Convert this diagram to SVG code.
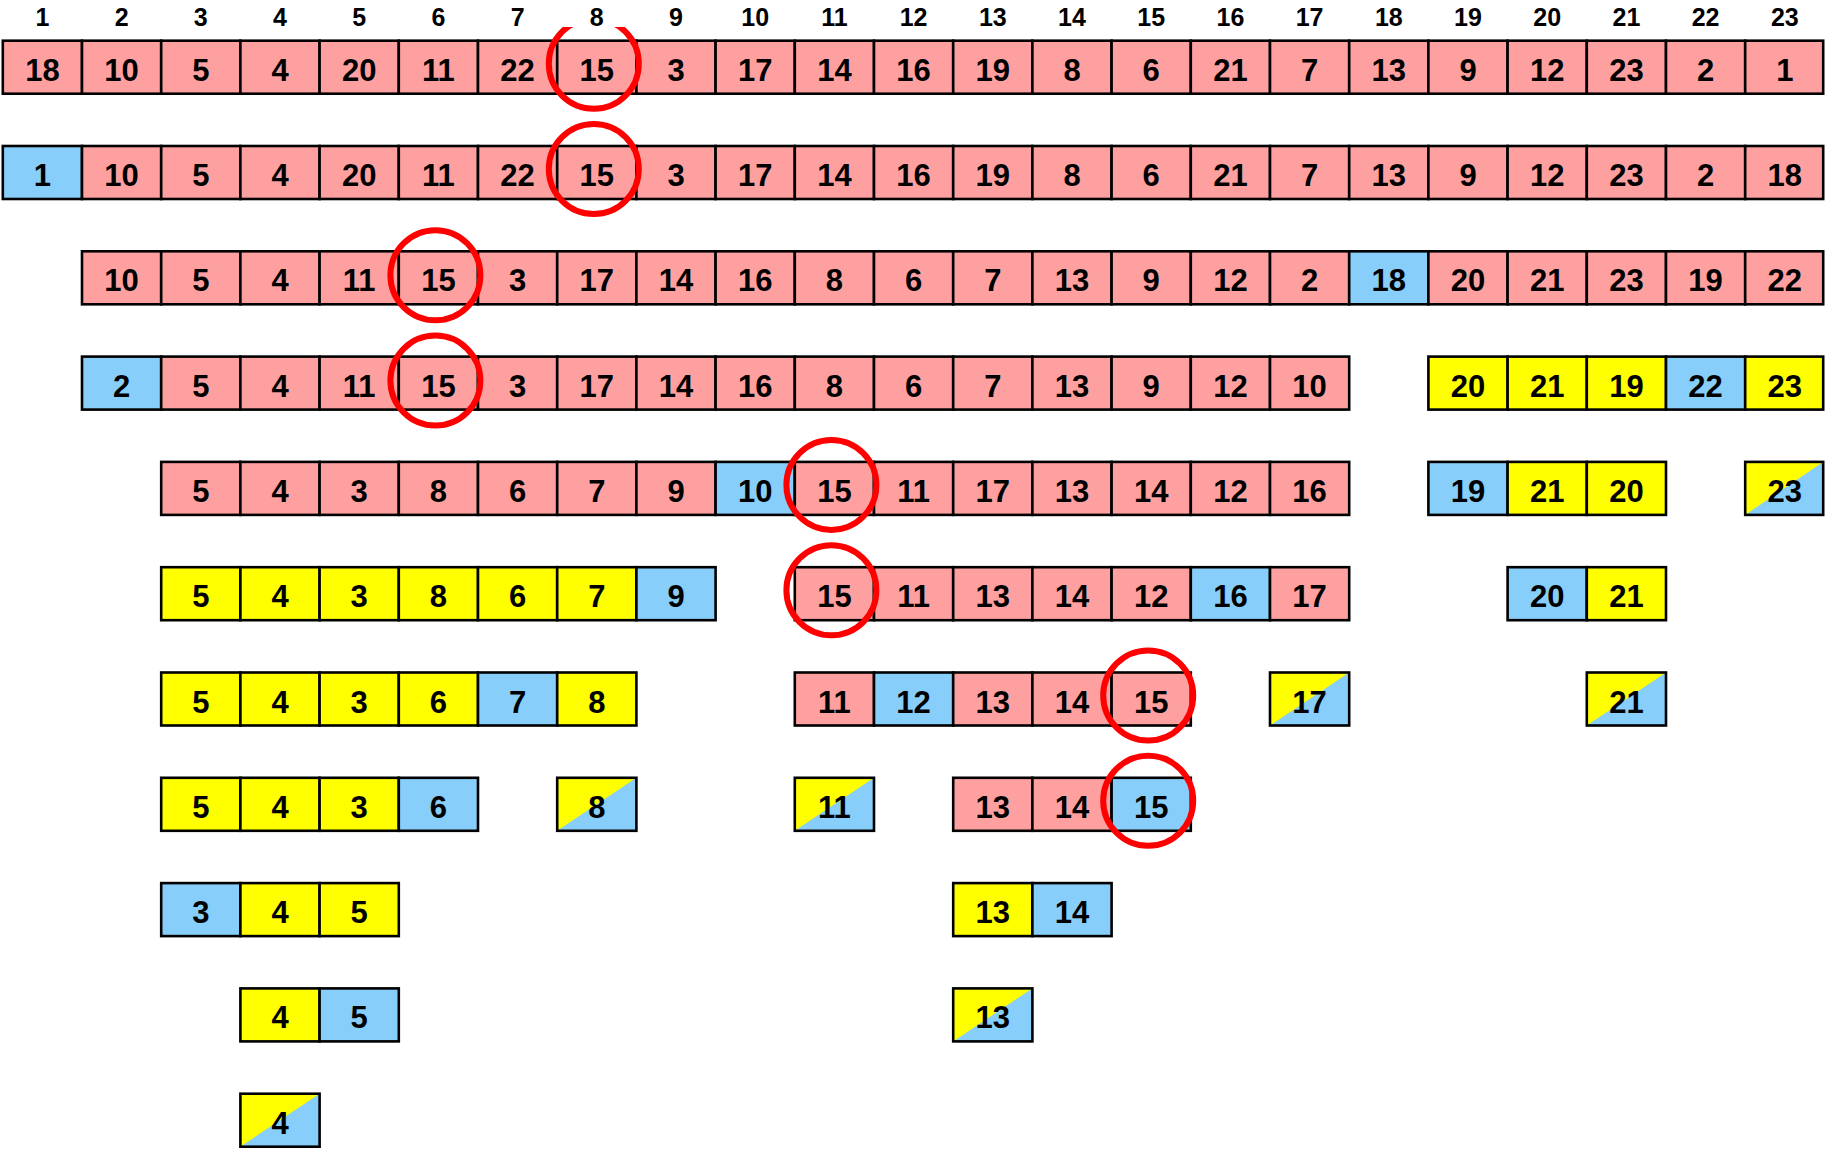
<svg xmlns="http://www.w3.org/2000/svg" width="1825" height="1149" viewBox="0 0 1825 1149">
<style>
rect{stroke:#000;stroke-width:2.6}
.p{fill:#FFA0A0}.b{fill:#87CEFA}.y{fill:#FFFF00}
.o{fill:none}
.t{fill:#FFFF00;stroke:none}
polygon{fill:#87CEFA;stroke:none}
text{font-family:"Liberation Sans",Arial,sans-serif;font-weight:bold;font-size:31px;text-anchor:middle;fill:#000}
.h{font-size:25px}
circle{fill:none;stroke:#F00;stroke-width:6}
</style>
<rect x="0" y="0" width="1825" height="1149" style="fill:#fff;stroke:none"/>
<g id="row1" transform="translate(0,40.7)">
<g id="n1-1"><rect class="p" x="2.8" y="0" width="79.2" height="53"/><text x="42.4" y="40">18</text></g>
<g id="n1-2"><rect class="p" x="82" y="0" width="79.2" height="53"/><text x="121.6" y="40">10</text></g>
<g id="n1-3"><rect class="p" x="161.2" y="0" width="79.2" height="53"/><text x="200.8" y="40">5</text></g>
<g id="n1-4"><rect class="p" x="240.4" y="0" width="79.2" height="53"/><text x="280" y="40">4</text></g>
<g id="n1-5"><rect class="p" x="319.6" y="0" width="79.2" height="53"/><text x="359.2" y="40">20</text></g>
<g id="n1-6"><rect class="p" x="398.8" y="0" width="79.2" height="53"/><text x="438.4" y="40">11</text></g>
<g id="n1-7"><rect class="p" x="478" y="0" width="79.2" height="53"/><text x="517.6" y="40">22</text></g>
<g id="n1-8"><rect class="p" x="557.2" y="0" width="79.2" height="53"/><text x="596.8" y="40">15</text></g>
<g id="n1-9"><rect class="p" x="636.4" y="0" width="79.2" height="53"/><text x="676" y="40">3</text></g>
<g id="n1-10"><rect class="p" x="715.6" y="0" width="79.2" height="53"/><text x="755.2" y="40">17</text></g>
<g id="n1-11"><rect class="p" x="794.8" y="0" width="79.2" height="53"/><text x="834.4" y="40">14</text></g>
<g id="n1-12"><rect class="p" x="874" y="0" width="79.2" height="53"/><text x="913.6" y="40">16</text></g>
<g id="n1-13"><rect class="p" x="953.2" y="0" width="79.2" height="53"/><text x="992.8" y="40">19</text></g>
<g id="n1-14"><rect class="p" x="1032.4" y="0" width="79.2" height="53"/><text x="1072" y="40">8</text></g>
<g id="n1-15"><rect class="p" x="1111.6" y="0" width="79.2" height="53"/><text x="1151.2" y="40">6</text></g>
<g id="n1-16"><rect class="p" x="1190.8" y="0" width="79.2" height="53"/><text x="1230.4" y="40">21</text></g>
<g id="n1-17"><rect class="p" x="1270" y="0" width="79.2" height="53"/><text x="1309.6" y="40">7</text></g>
<g id="n1-18"><rect class="p" x="1349.2" y="0" width="79.2" height="53"/><text x="1388.8" y="40">13</text></g>
<g id="n1-19"><rect class="p" x="1428.4" y="0" width="79.2" height="53"/><text x="1468" y="40">9</text></g>
<g id="n1-20"><rect class="p" x="1507.6" y="0" width="79.2" height="53"/><text x="1547.2" y="40">12</text></g>
<g id="n1-21"><rect class="p" x="1586.8" y="0" width="79.2" height="53"/><text x="1626.4" y="40">23</text></g>
<g id="n1-22"><rect class="p" x="1666" y="0" width="79.2" height="53"/><text x="1705.6" y="40">2</text></g>
<g id="n1-23"><rect class="p" x="1745.2" y="0" width="78" height="53"/><text x="1784.8" y="40">1</text></g>
<circle cx="593.8" cy="23" r="45"/>
</g>
<g id="row2" transform="translate(0,146)">
<g id="n2-1"><rect class="b" x="2.8" y="0" width="79.2" height="53"/><text x="42.4" y="40">1</text></g>
<g id="n2-2"><rect class="p" x="82" y="0" width="79.2" height="53"/><text x="121.6" y="40">10</text></g>
<g id="n2-3"><rect class="p" x="161.2" y="0" width="79.2" height="53"/><text x="200.8" y="40">5</text></g>
<g id="n2-4"><rect class="p" x="240.4" y="0" width="79.2" height="53"/><text x="280" y="40">4</text></g>
<g id="n2-5"><rect class="p" x="319.6" y="0" width="79.2" height="53"/><text x="359.2" y="40">20</text></g>
<g id="n2-6"><rect class="p" x="398.8" y="0" width="79.2" height="53"/><text x="438.4" y="40">11</text></g>
<g id="n2-7"><rect class="p" x="478" y="0" width="79.2" height="53"/><text x="517.6" y="40">22</text></g>
<g id="n2-8"><rect class="p" x="557.2" y="0" width="79.2" height="53"/><text x="596.8" y="40">15</text></g>
<g id="n2-9"><rect class="p" x="636.4" y="0" width="79.2" height="53"/><text x="676" y="40">3</text></g>
<g id="n2-10"><rect class="p" x="715.6" y="0" width="79.2" height="53"/><text x="755.2" y="40">17</text></g>
<g id="n2-11"><rect class="p" x="794.8" y="0" width="79.2" height="53"/><text x="834.4" y="40">14</text></g>
<g id="n2-12"><rect class="p" x="874" y="0" width="79.2" height="53"/><text x="913.6" y="40">16</text></g>
<g id="n2-13"><rect class="p" x="953.2" y="0" width="79.2" height="53"/><text x="992.8" y="40">19</text></g>
<g id="n2-14"><rect class="p" x="1032.4" y="0" width="79.2" height="53"/><text x="1072" y="40">8</text></g>
<g id="n2-15"><rect class="p" x="1111.6" y="0" width="79.2" height="53"/><text x="1151.2" y="40">6</text></g>
<g id="n2-16"><rect class="p" x="1190.8" y="0" width="79.2" height="53"/><text x="1230.4" y="40">21</text></g>
<g id="n2-17"><rect class="p" x="1270" y="0" width="79.2" height="53"/><text x="1309.6" y="40">7</text></g>
<g id="n2-18"><rect class="p" x="1349.2" y="0" width="79.2" height="53"/><text x="1388.8" y="40">13</text></g>
<g id="n2-19"><rect class="p" x="1428.4" y="0" width="79.2" height="53"/><text x="1468" y="40">9</text></g>
<g id="n2-20"><rect class="p" x="1507.6" y="0" width="79.2" height="53"/><text x="1547.2" y="40">12</text></g>
<g id="n2-21"><rect class="p" x="1586.8" y="0" width="79.2" height="53"/><text x="1626.4" y="40">23</text></g>
<g id="n2-22"><rect class="p" x="1666" y="0" width="79.2" height="53"/><text x="1705.6" y="40">2</text></g>
<g id="n2-23"><rect class="p" x="1745.2" y="0" width="78" height="53"/><text x="1784.8" y="40">18</text></g>
<circle cx="593.8" cy="23" r="45"/>
</g>
<g id="row3" transform="translate(0,251.3)">
<g id="n3-2"><rect class="p" x="82" y="0" width="79.2" height="53"/><text x="121.6" y="40">10</text></g>
<g id="n3-3"><rect class="p" x="161.2" y="0" width="79.2" height="53"/><text x="200.8" y="40">5</text></g>
<g id="n3-4"><rect class="p" x="240.4" y="0" width="79.2" height="53"/><text x="280" y="40">4</text></g>
<g id="n3-5"><rect class="p" x="319.6" y="0" width="79.2" height="53"/><text x="359.2" y="40">11</text></g>
<g id="n3-6"><rect class="p" x="398.8" y="0" width="79.2" height="53"/><text x="438.4" y="40">15</text></g>
<g id="n3-7"><rect class="p" x="478" y="0" width="79.2" height="53"/><text x="517.6" y="40">3</text></g>
<g id="n3-8"><rect class="p" x="557.2" y="0" width="79.2" height="53"/><text x="596.8" y="40">17</text></g>
<g id="n3-9"><rect class="p" x="636.4" y="0" width="79.2" height="53"/><text x="676" y="40">14</text></g>
<g id="n3-10"><rect class="p" x="715.6" y="0" width="79.2" height="53"/><text x="755.2" y="40">16</text></g>
<g id="n3-11"><rect class="p" x="794.8" y="0" width="79.2" height="53"/><text x="834.4" y="40">8</text></g>
<g id="n3-12"><rect class="p" x="874" y="0" width="79.2" height="53"/><text x="913.6" y="40">6</text></g>
<g id="n3-13"><rect class="p" x="953.2" y="0" width="79.2" height="53"/><text x="992.8" y="40">7</text></g>
<g id="n3-14"><rect class="p" x="1032.4" y="0" width="79.2" height="53"/><text x="1072" y="40">13</text></g>
<g id="n3-15"><rect class="p" x="1111.6" y="0" width="79.2" height="53"/><text x="1151.2" y="40">9</text></g>
<g id="n3-16"><rect class="p" x="1190.8" y="0" width="79.2" height="53"/><text x="1230.4" y="40">12</text></g>
<g id="n3-17"><rect class="p" x="1270" y="0" width="79.2" height="53"/><text x="1309.6" y="40">2</text></g>
<g id="n3-18"><rect class="b" x="1349.2" y="0" width="79.2" height="53"/><text x="1388.8" y="40">18</text></g>
<g id="n3-19"><rect class="p" x="1428.4" y="0" width="79.2" height="53"/><text x="1468" y="40">20</text></g>
<g id="n3-20"><rect class="p" x="1507.6" y="0" width="79.2" height="53"/><text x="1547.2" y="40">21</text></g>
<g id="n3-21"><rect class="p" x="1586.8" y="0" width="79.2" height="53"/><text x="1626.4" y="40">23</text></g>
<g id="n3-22"><rect class="p" x="1666" y="0" width="79.2" height="53"/><text x="1705.6" y="40">19</text></g>
<g id="n3-23"><rect class="p" x="1745.2" y="0" width="78" height="53"/><text x="1784.8" y="40">22</text></g>
<circle cx="435.4" cy="24" r="45"/>
</g>
<g id="row4" transform="translate(0,356.6)">
<g id="n4-2"><rect class="b" x="82" y="0" width="79.2" height="53"/><text x="121.6" y="40">2</text></g>
<g id="n4-3"><rect class="p" x="161.2" y="0" width="79.2" height="53"/><text x="200.8" y="40">5</text></g>
<g id="n4-4"><rect class="p" x="240.4" y="0" width="79.2" height="53"/><text x="280" y="40">4</text></g>
<g id="n4-5"><rect class="p" x="319.6" y="0" width="79.2" height="53"/><text x="359.2" y="40">11</text></g>
<g id="n4-6"><rect class="p" x="398.8" y="0" width="79.2" height="53"/><text x="438.4" y="40">15</text></g>
<g id="n4-7"><rect class="p" x="478" y="0" width="79.2" height="53"/><text x="517.6" y="40">3</text></g>
<g id="n4-8"><rect class="p" x="557.2" y="0" width="79.2" height="53"/><text x="596.8" y="40">17</text></g>
<g id="n4-9"><rect class="p" x="636.4" y="0" width="79.2" height="53"/><text x="676" y="40">14</text></g>
<g id="n4-10"><rect class="p" x="715.6" y="0" width="79.2" height="53"/><text x="755.2" y="40">16</text></g>
<g id="n4-11"><rect class="p" x="794.8" y="0" width="79.2" height="53"/><text x="834.4" y="40">8</text></g>
<g id="n4-12"><rect class="p" x="874" y="0" width="79.2" height="53"/><text x="913.6" y="40">6</text></g>
<g id="n4-13"><rect class="p" x="953.2" y="0" width="79.2" height="53"/><text x="992.8" y="40">7</text></g>
<g id="n4-14"><rect class="p" x="1032.4" y="0" width="79.2" height="53"/><text x="1072" y="40">13</text></g>
<g id="n4-15"><rect class="p" x="1111.6" y="0" width="79.2" height="53"/><text x="1151.2" y="40">9</text></g>
<g id="n4-16"><rect class="p" x="1190.8" y="0" width="79.2" height="53"/><text x="1230.4" y="40">12</text></g>
<g id="n4-17"><rect class="p" x="1270" y="0" width="79.2" height="53"/><text x="1309.6" y="40">10</text></g>
<g id="n4-19"><rect class="y" x="1428.4" y="0" width="79.2" height="53"/><text x="1468" y="40">20</text></g>
<g id="n4-20"><rect class="y" x="1507.6" y="0" width="79.2" height="53"/><text x="1547.2" y="40">21</text></g>
<g id="n4-21"><rect class="y" x="1586.8" y="0" width="79.2" height="53"/><text x="1626.4" y="40">19</text></g>
<g id="n4-22"><rect class="b" x="1666" y="0" width="79.2" height="53"/><text x="1705.6" y="40">22</text></g>
<g id="n4-23"><rect class="y" x="1745.2" y="0" width="78" height="53"/><text x="1784.8" y="40">23</text></g>
<circle cx="435.4" cy="24" r="45"/>
</g>
<g id="row5" transform="translate(0,461.9)">
<g id="n5-3"><rect class="p" x="161.2" y="0" width="79.2" height="53"/><text x="200.8" y="40">5</text></g>
<g id="n5-4"><rect class="p" x="240.4" y="0" width="79.2" height="53"/><text x="280" y="40">4</text></g>
<g id="n5-5"><rect class="p" x="319.6" y="0" width="79.2" height="53"/><text x="359.2" y="40">3</text></g>
<g id="n5-6"><rect class="p" x="398.8" y="0" width="79.2" height="53"/><text x="438.4" y="40">8</text></g>
<g id="n5-7"><rect class="p" x="478" y="0" width="79.2" height="53"/><text x="517.6" y="40">6</text></g>
<g id="n5-8"><rect class="p" x="557.2" y="0" width="79.2" height="53"/><text x="596.8" y="40">7</text></g>
<g id="n5-9"><rect class="p" x="636.4" y="0" width="79.2" height="53"/><text x="676" y="40">9</text></g>
<g id="n5-10"><rect class="b" x="715.6" y="0" width="79.2" height="53"/><text x="755.2" y="40">10</text></g>
<g id="n5-11"><rect class="p" x="794.8" y="0" width="79.2" height="53"/><text x="834.4" y="40">15</text></g>
<g id="n5-12"><rect class="p" x="874" y="0" width="79.2" height="53"/><text x="913.6" y="40">11</text></g>
<g id="n5-13"><rect class="p" x="953.2" y="0" width="79.2" height="53"/><text x="992.8" y="40">17</text></g>
<g id="n5-14"><rect class="p" x="1032.4" y="0" width="79.2" height="53"/><text x="1072" y="40">13</text></g>
<g id="n5-15"><rect class="p" x="1111.6" y="0" width="79.2" height="53"/><text x="1151.2" y="40">14</text></g>
<g id="n5-16"><rect class="p" x="1190.8" y="0" width="79.2" height="53"/><text x="1230.4" y="40">12</text></g>
<g id="n5-17"><rect class="p" x="1270" y="0" width="79.2" height="53"/><text x="1309.6" y="40">16</text></g>
<g id="n5-19"><rect class="b" x="1428.4" y="0" width="79.2" height="53"/><text x="1468" y="40">19</text></g>
<g id="n5-20"><rect class="y" x="1507.6" y="0" width="79.2" height="53"/><text x="1547.2" y="40">21</text></g>
<g id="n5-21"><rect class="y" x="1586.8" y="0" width="79.2" height="53"/><text x="1626.4" y="40">20</text></g>
<g id="n5-23"><rect class="t" x="1745.2" y="0" width="78" height="53"/><polygon points="1745.2,53 1823.2,0 1823.2,53"/><rect class="o" x="1745.2" y="0" width="78" height="53"/><text x="1784.8" y="40">23</text></g>
<circle cx="831.4" cy="23" r="45"/>
</g>
<g id="row6" transform="translate(0,567.2)">
<g id="n6-3"><rect class="y" x="161.2" y="0" width="79.2" height="53"/><text x="200.8" y="40">5</text></g>
<g id="n6-4"><rect class="y" x="240.4" y="0" width="79.2" height="53"/><text x="280" y="40">4</text></g>
<g id="n6-5"><rect class="y" x="319.6" y="0" width="79.2" height="53"/><text x="359.2" y="40">3</text></g>
<g id="n6-6"><rect class="y" x="398.8" y="0" width="79.2" height="53"/><text x="438.4" y="40">8</text></g>
<g id="n6-7"><rect class="y" x="478" y="0" width="79.2" height="53"/><text x="517.6" y="40">6</text></g>
<g id="n6-8"><rect class="y" x="557.2" y="0" width="79.2" height="53"/><text x="596.8" y="40">7</text></g>
<g id="n6-9"><rect class="b" x="636.4" y="0" width="79.2" height="53"/><text x="676" y="40">9</text></g>
<g id="n6-11"><rect class="p" x="794.8" y="0" width="79.2" height="53"/><text x="834.4" y="40">15</text></g>
<g id="n6-12"><rect class="p" x="874" y="0" width="79.2" height="53"/><text x="913.6" y="40">11</text></g>
<g id="n6-13"><rect class="p" x="953.2" y="0" width="79.2" height="53"/><text x="992.8" y="40">13</text></g>
<g id="n6-14"><rect class="p" x="1032.4" y="0" width="79.2" height="53"/><text x="1072" y="40">14</text></g>
<g id="n6-15"><rect class="p" x="1111.6" y="0" width="79.2" height="53"/><text x="1151.2" y="40">12</text></g>
<g id="n6-16"><rect class="b" x="1190.8" y="0" width="79.2" height="53"/><text x="1230.4" y="40">16</text></g>
<g id="n6-17"><rect class="p" x="1270" y="0" width="79.2" height="53"/><text x="1309.6" y="40">17</text></g>
<g id="n6-20"><rect class="b" x="1507.6" y="0" width="79.2" height="53"/><text x="1547.2" y="40">20</text></g>
<g id="n6-21"><rect class="y" x="1586.8" y="0" width="79.2" height="53"/><text x="1626.4" y="40">21</text></g>
<circle cx="831.4" cy="23" r="45"/>
</g>
<g id="row7" transform="translate(0,672.5)">
<g id="n7-3"><rect class="y" x="161.2" y="0" width="79.2" height="53"/><text x="200.8" y="40">5</text></g>
<g id="n7-4"><rect class="y" x="240.4" y="0" width="79.2" height="53"/><text x="280" y="40">4</text></g>
<g id="n7-5"><rect class="y" x="319.6" y="0" width="79.2" height="53"/><text x="359.2" y="40">3</text></g>
<g id="n7-6"><rect class="y" x="398.8" y="0" width="79.2" height="53"/><text x="438.4" y="40">6</text></g>
<g id="n7-7"><rect class="b" x="478" y="0" width="79.2" height="53"/><text x="517.6" y="40">7</text></g>
<g id="n7-8"><rect class="y" x="557.2" y="0" width="79.2" height="53"/><text x="596.8" y="40">8</text></g>
<g id="n7-11"><rect class="p" x="794.8" y="0" width="79.2" height="53"/><text x="834.4" y="40">11</text></g>
<g id="n7-12"><rect class="b" x="874" y="0" width="79.2" height="53"/><text x="913.6" y="40">12</text></g>
<g id="n7-13"><rect class="p" x="953.2" y="0" width="79.2" height="53"/><text x="992.8" y="40">13</text></g>
<g id="n7-14"><rect class="p" x="1032.4" y="0" width="79.2" height="53"/><text x="1072" y="40">14</text></g>
<g id="n7-15"><rect class="p" x="1111.6" y="0" width="79.2" height="53"/><text x="1151.2" y="40">15</text></g>
<g id="n7-17"><rect class="t" x="1270" y="0" width="79.2" height="53"/><polygon points="1270,53 1349.2,0 1349.2,53"/><rect class="o" x="1270" y="0" width="79.2" height="53"/><text x="1309.6" y="40">17</text></g>
<g id="n7-21"><rect class="t" x="1586.8" y="0" width="79.2" height="53"/><polygon points="1586.8,53 1666,0 1666,53"/><rect class="o" x="1586.8" y="0" width="79.2" height="53"/><text x="1626.4" y="40">21</text></g>
<circle cx="1148.2" cy="23" r="45"/>
</g>
<g id="row8" transform="translate(0,777.8)">
<g id="n8-3"><rect class="y" x="161.2" y="0" width="79.2" height="53"/><text x="200.8" y="40">5</text></g>
<g id="n8-4"><rect class="y" x="240.4" y="0" width="79.2" height="53"/><text x="280" y="40">4</text></g>
<g id="n8-5"><rect class="y" x="319.6" y="0" width="79.2" height="53"/><text x="359.2" y="40">3</text></g>
<g id="n8-6"><rect class="b" x="398.8" y="0" width="79.2" height="53"/><text x="438.4" y="40">6</text></g>
<g id="n8-8"><rect class="t" x="557.2" y="0" width="79.2" height="53"/><polygon points="557.2,53 636.4,0 636.4,53"/><rect class="o" x="557.2" y="0" width="79.2" height="53"/><text x="596.8" y="40">8</text></g>
<g id="n8-11"><rect class="t" x="794.8" y="0" width="79.2" height="53"/><polygon points="794.8,53 874,0 874,53"/><rect class="o" x="794.8" y="0" width="79.2" height="53"/><text x="834.4" y="40">11</text></g>
<g id="n8-13"><rect class="p" x="953.2" y="0" width="79.2" height="53"/><text x="992.8" y="40">13</text></g>
<g id="n8-14"><rect class="p" x="1032.4" y="0" width="79.2" height="53"/><text x="1072" y="40">14</text></g>
<g id="n8-15"><rect class="b" x="1111.6" y="0" width="79.2" height="53"/><text x="1151.2" y="40">15</text></g>
<circle cx="1148.2" cy="23" r="45"/>
</g>
<g id="row9" transform="translate(0,883.1)">
<g id="n9-3"><rect class="b" x="161.2" y="0" width="79.2" height="53"/><text x="200.8" y="40">3</text></g>
<g id="n9-4"><rect class="y" x="240.4" y="0" width="79.2" height="53"/><text x="280" y="40">4</text></g>
<g id="n9-5"><rect class="y" x="319.6" y="0" width="79.2" height="53"/><text x="359.2" y="40">5</text></g>
<g id="n9-13"><rect class="y" x="953.2" y="0" width="79.2" height="53"/><text x="992.8" y="40">13</text></g>
<g id="n9-14"><rect class="b" x="1032.4" y="0" width="79.2" height="53"/><text x="1072" y="40">14</text></g>
</g>
<g id="row10" transform="translate(0,988.4)">
<g id="n10-4"><rect class="y" x="240.4" y="0" width="79.2" height="53"/><text x="280" y="40">4</text></g>
<g id="n10-5"><rect class="b" x="319.6" y="0" width="79.2" height="53"/><text x="359.2" y="40">5</text></g>
<g id="n10-13"><rect class="t" x="953.2" y="0" width="79.2" height="53"/><polygon points="953.2,53 1032.4,0 1032.4,53"/><rect class="o" x="953.2" y="0" width="79.2" height="53"/><text x="992.8" y="40">13</text></g>
</g>
<g id="row11" transform="translate(0,1093.7)">
<g id="n11-4"><rect class="t" x="240.4" y="0" width="79.2" height="53"/><polygon points="240.4,53 319.6,0 319.6,53"/><rect class="o" x="240.4" y="0" width="79.2" height="53"/><text x="280" y="40">4</text></g>
</g>
<g id="connectors"></g>
<g id="header">
<rect x="0" y="0" width="1825" height="27" style="fill:#fff;stroke:none"/>
<text class="h" x="42.4" y="26">1</text>
<text class="h" x="121.6" y="26">2</text>
<text class="h" x="200.8" y="26">3</text>
<text class="h" x="280" y="26">4</text>
<text class="h" x="359.2" y="26">5</text>
<text class="h" x="438.4" y="26">6</text>
<text class="h" x="517.6" y="26">7</text>
<text class="h" x="596.8" y="26">8</text>
<text class="h" x="676" y="26">9</text>
<text class="h" x="755.2" y="26">10</text>
<text class="h" x="834.4" y="26">11</text>
<text class="h" x="913.6" y="26">12</text>
<text class="h" x="992.8" y="26">13</text>
<text class="h" x="1072" y="26">14</text>
<text class="h" x="1151.2" y="26">15</text>
<text class="h" x="1230.4" y="26">16</text>
<text class="h" x="1309.6" y="26">17</text>
<text class="h" x="1388.8" y="26">18</text>
<text class="h" x="1468" y="26">19</text>
<text class="h" x="1547.2" y="26">20</text>
<text class="h" x="1626.4" y="26">21</text>
<text class="h" x="1705.6" y="26">22</text>
<text class="h" x="1784.8" y="26">23</text>
</g>
</svg>
